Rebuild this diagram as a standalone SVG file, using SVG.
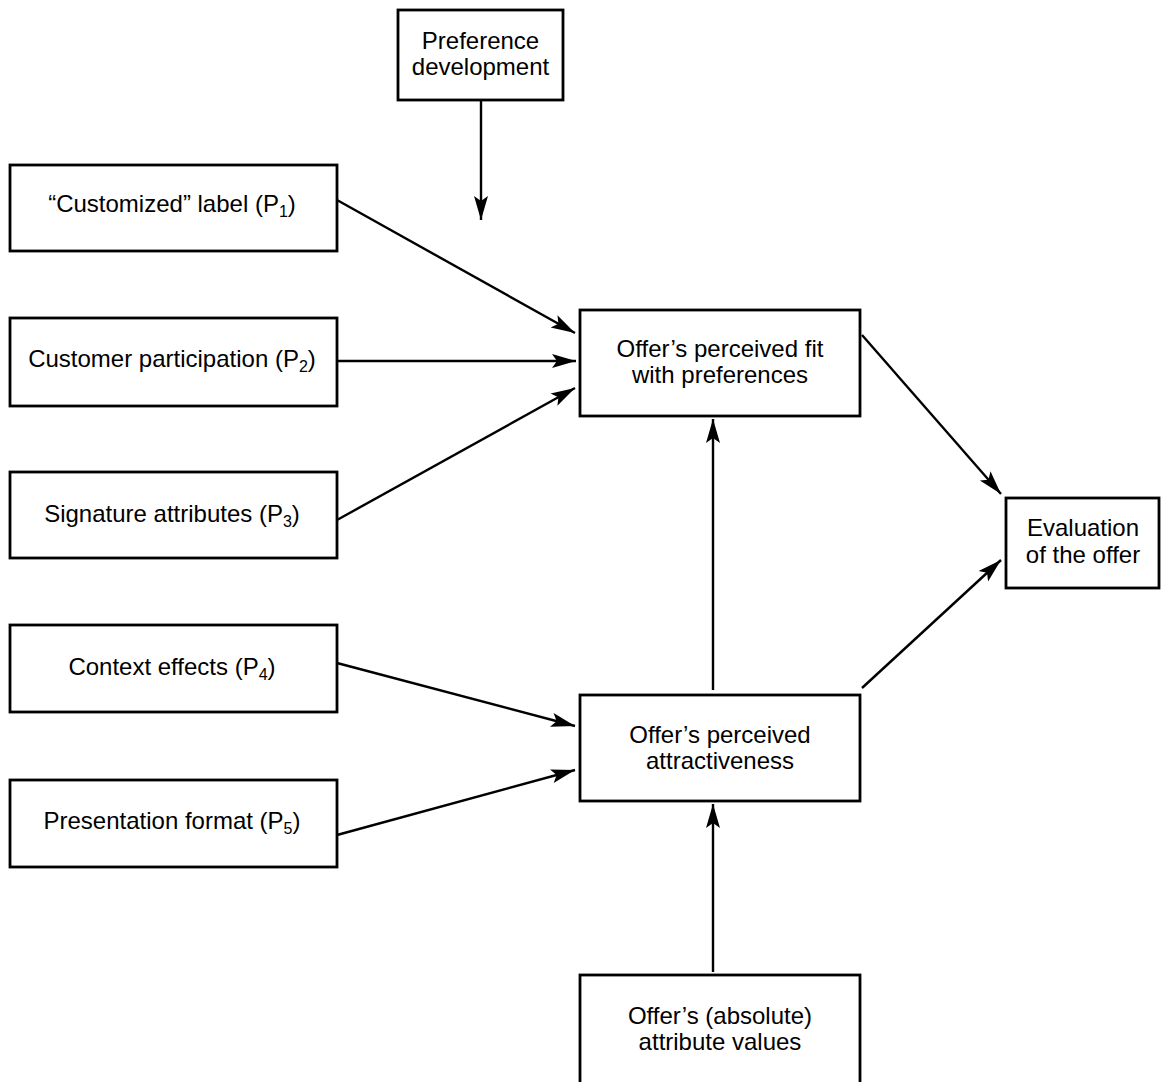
<svg xmlns="http://www.w3.org/2000/svg" width="1161" height="1082" viewBox="0 0 1161 1082">
<style>
rect.box{fill:#fff;stroke:#000;stroke-width:2.8}
text{font-family:"Liberation Sans",Arial,Helvetica,sans-serif;font-size:24px;fill:#000;text-anchor:middle}
tspan.sub{font-size:16px}
.conn line{stroke:#000;stroke-width:2.4;marker-end:url(#ah)}
</style>
<defs>
<marker id="ah" viewBox="-25 -8 27 16" markerUnits="userSpaceOnUse" markerWidth="27" markerHeight="16" refX="0" refY="0" orient="auto">
<path d="M0,0 L-24,-7 L-19,0 L-24,7 Z" fill="#000"/>
</marker>
</defs>
<rect width="1161" height="1082" fill="#fff"/>
<g id="pref">
<rect class="box" x="398" y="10" width="165" height="90"/>
<text x="480.5" y="49">Preference</text>
<text x="480.5" y="75">development</text>
</g>
<g id="p1">
<rect class="box" x="10" y="165" width="327" height="86"/>
<text x="172" y="212">“Customized” label (P<tspan class="sub" dy="5">1</tspan><tspan dy="-5">)</tspan></text>
</g>
<g id="p2">
<rect class="box" x="10" y="318" width="327" height="88"/>
<text x="172" y="367">Customer participation (P<tspan class="sub" dy="5">2</tspan><tspan dy="-5">)</tspan></text>
</g>
<g id="p3">
<rect class="box" x="10" y="472" width="327" height="86"/>
<text x="172" y="522">Signature attributes (P<tspan class="sub" dy="5">3</tspan><tspan dy="-5">)</tspan></text>
</g>
<g id="p4">
<rect class="box" x="10" y="625" width="327" height="87"/>
<text x="172" y="675">Context effects (P<tspan class="sub" dy="5">4</tspan><tspan dy="-5">)</tspan></text>
</g>
<g id="p5">
<rect class="box" x="10" y="780" width="327" height="87"/>
<text x="172" y="829">Presentation format (P<tspan class="sub" dy="5">5</tspan><tspan dy="-5">)</tspan></text>
</g>
<g id="fit">
<rect class="box" x="580" y="310" width="280" height="106"/>
<text x="720" y="357">Offer’s perceived fit</text>
<text x="720" y="383">with preferences</text>
</g>
<g id="attract">
<rect class="box" x="580" y="695" width="280" height="106"/>
<text x="720" y="743">Offer’s perceived</text>
<text x="720" y="769">attractiveness</text>
</g>
<g id="eval">
<rect class="box" x="1006" y="498" width="153" height="90"/>
<text x="1083" y="536">Evaluation</text>
<text x="1083" y="563">of the offer</text>
</g>
<g id="absolute">
<rect class="box" x="580" y="975" width="280" height="110"/>
<text x="720" y="1024">Offer’s (absolute)</text>
<text x="720" y="1050">attribute values</text>
</g>
<g class="conn" id="connectors">
<line x1="481" y1="100" x2="481" y2="220"/>
<line x1="337" y1="200" x2="575" y2="333"/>
<line x1="337" y1="361" x2="576" y2="361"/>
<line x1="337" y1="520" x2="575" y2="388"/>
<line x1="337" y1="663" x2="575" y2="726"/>
<line x1="337" y1="835" x2="575" y2="770"/>
<line x1="862" y1="335" x2="1001" y2="494"/>
<line x1="862" y1="688" x2="1001" y2="560"/>
<line x1="713" y1="690" x2="713" y2="419"/>
<line x1="713" y1="972" x2="713" y2="804"/>
</g>
</svg>
